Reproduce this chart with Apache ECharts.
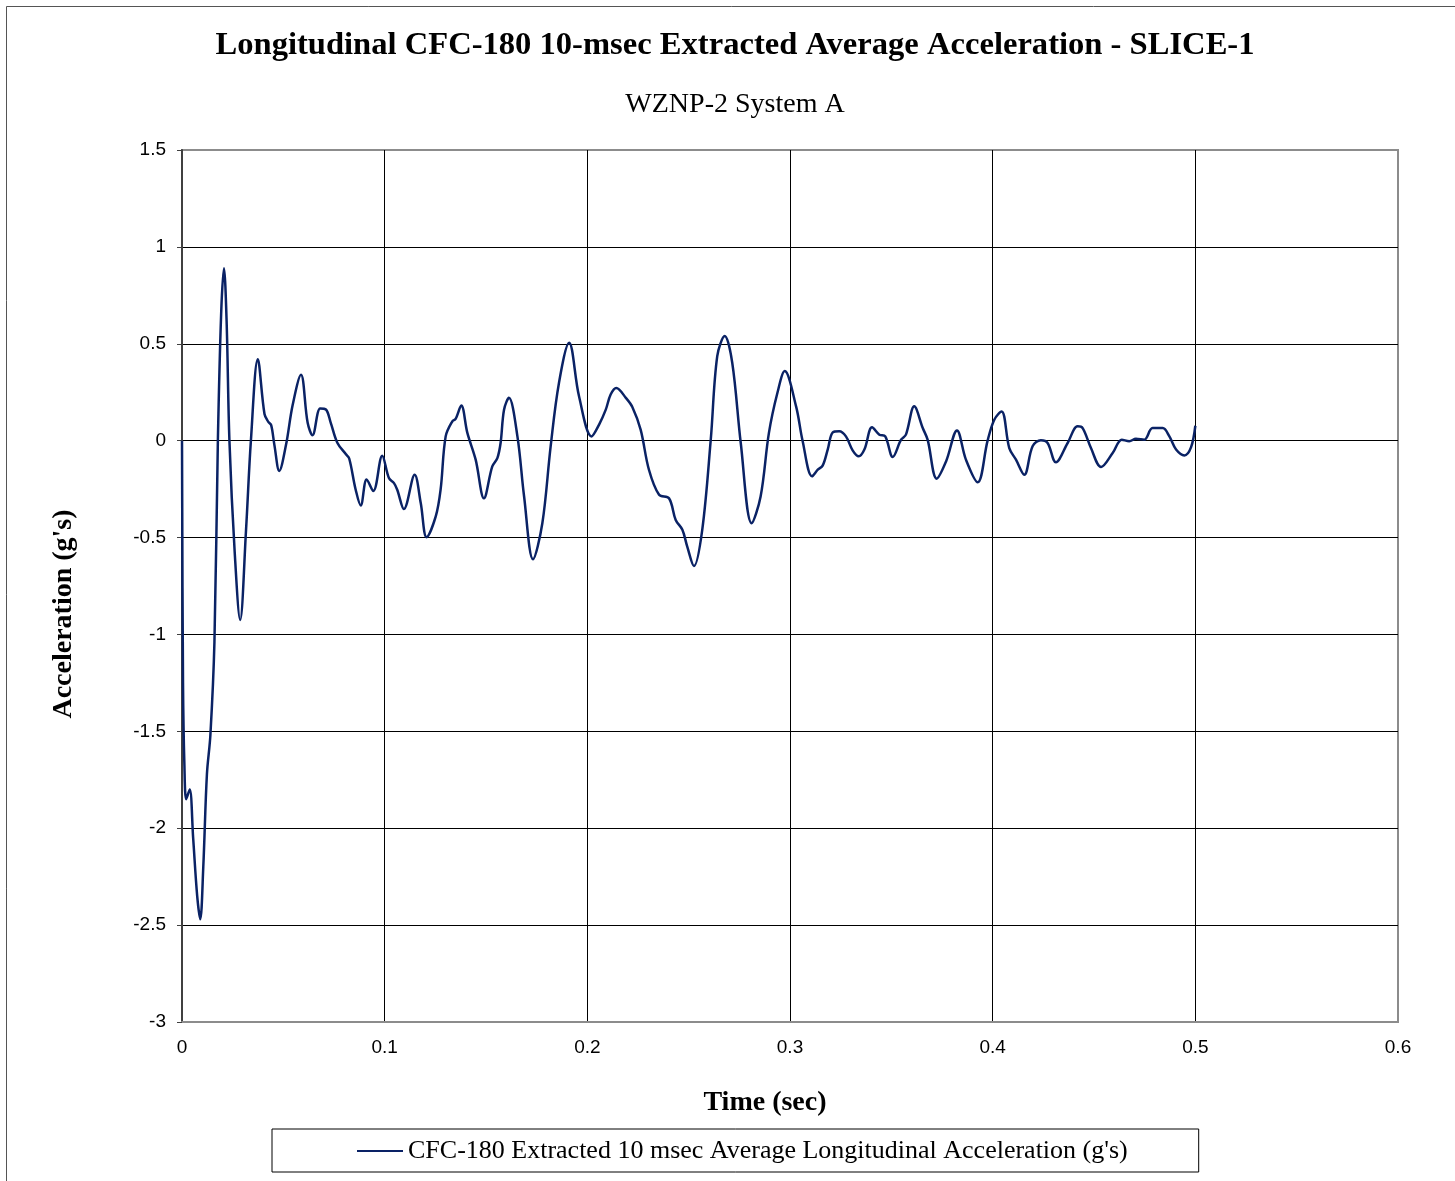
<!DOCTYPE html>
<html>
<head>
<meta charset="utf-8">
<title>Longitudinal CFC-180 10-msec Extracted Average Acceleration - SLICE-1</title>
<script src="https://cdn.jsdelivr.net/npm/echarts@6/dist/echarts.min.js"></script>
<style>
  html, body { margin: 0; padding: 0; background: #fff; }
  #chart { width: 1455px; height: 1181px; }
</style>
</head>
<body>
<div id="chart"></div>
<script>
// time (sec)
const times = [
  0, 0.0005, 0.0012, 0.0021, 0.0038, 0.0055, 0.0075, 0.009, 0.0105, 0.0123,
  0.014, 0.016, 0.0177, 0.0193, 0.0207, 0.022, 0.0234, 0.026, 0.0287, 0.0316,
  0.034, 0.0374, 0.0407, 0.0426, 0.044, 0.0456, 0.048, 0.0513, 0.0546, 0.0587,
  0.062, 0.0644, 0.0682, 0.071, 0.0734, 0.0767, 0.0808, 0.0825, 0.0857, 0.0882,
  0.0911, 0.0944, 0.0988, 0.1021, 0.1046, 0.1062, 0.1095, 0.1148, 0.1178, 0.1207,
  0.1252, 0.1276, 0.1301, 0.1334, 0.135, 0.1378, 0.1408, 0.1449, 0.149, 0.1531,
  0.1556, 0.1572, 0.1589, 0.1613, 0.1655, 0.1688, 0.1732, 0.1778, 0.1819, 0.186,
  0.191, 0.1959, 0.2021, 0.2058, 0.2091, 0.2115, 0.2143, 0.219, 0.2222, 0.2263,
  0.2304, 0.2354, 0.2403, 0.2436, 0.2469, 0.2493, 0.2526, 0.2567, 0.2609, 0.2641,
  0.2678, 0.2715, 0.2757, 0.2811, 0.2855, 0.2896, 0.2938, 0.2974, 0.303, 0.3062,
  0.3109, 0.3137, 0.3161, 0.3186, 0.3211, 0.3243, 0.3276, 0.3309, 0.3339, 0.3367,
  0.3405, 0.3441, 0.347, 0.3507, 0.3548, 0.3572, 0.3613, 0.3655, 0.3679, 0.3724,
  0.377, 0.3824, 0.3868, 0.3926, 0.3975, 0.4008, 0.4044, 0.4082, 0.4115, 0.4156,
  0.4197, 0.4238, 0.4271, 0.4312, 0.437, 0.4419, 0.4444, 0.4485, 0.4535, 0.4592,
  0.4637, 0.4674, 0.4707, 0.4748, 0.4789, 0.4839, 0.4872, 0.4905, 0.4946, 0.4979,
  0.5
];

// acceleration (g's)
const accel = [
  0, -1.25, -1.68, -1.85, -1.80, -2.05, -2.35, -2.47, -2.2, -1.72,
  -1.52, -1.04, 0, 0.65, 0.89, 0.62, 0, -0.575, -0.925, -0.46,
  0, 0.42, 0.138, 0.097, 0.08, -0.023, -0.156, -0.023, 0.184, 0.34,
  0.092, 0.028, 0.166, 0.161, 0.092, -0.012, -0.069, -0.092, -0.253, -0.334,
  -0.2, -0.26, -0.078, -0.193, -0.219, -0.253, -0.353, -0.176, -0.322, -0.498,
  -0.391, -0.253, 0.022, 0.1, 0.112, 0.181, 0.04, -0.098, -0.297, -0.133,
  -0.09, -0.012, 0.16, 0.221, 0.022, -0.288, -0.612, -0.426, -0.029, 0.298,
  0.505, 0.229, 0.022, 0.083, 0.16, 0.238, 0.272, 0.221, 0.174, 0.057,
  -0.15, -0.279, -0.297, -0.409, -0.46, -0.547, -0.647, -0.46, 0.005, 0.436,
  0.54, 0.402, -0.012, -0.426, -0.288, 0.04, 0.247, 0.359, 0.177, 0,
  -0.184, -0.15, -0.129, -0.046, 0.043, 0.048, 0.022, -0.05, -0.081, -0.046,
  0.069, 0.031, 0.022, -0.084, 0.005, 0.031, 0.177, 0.065, 0.005, -0.196,
  -0.107, 0.053, -0.098, -0.215, 0, 0.108, 0.151, -0.038, -0.098, -0.176,
  -0.029, 0.002, -0.012, -0.112, -0.012, 0.074, 0.065, -0.038, -0.136, -0.064,
  0.005, -0.003, 0.01, 0.005, 0.065, 0.065, 0.022, -0.046, -0.076, -0.033,
  0.077
];

const seriesName = "CFC-180 Extracted 10 msec Average Longitudinal Acceleration (g's)";
const serif = '"Liberation Serif", "Times New Roman", serif';
const sans = '"Liberation Sans", Arial, sans-serif';

const chart = echarts.init(document.getElementById('chart'));

const option = {
    animation: false,
    backgroundColor: '#fff',
    grid: {
        left: 182, top: 150, width: 1216, height: 872,
        show: true, borderColor: '#8c8c8c', borderWidth: 2
    },
    xAxis: {
        type: 'value', min: 0, max: 0.6, interval: 0.1,
        axisLine: { onZero: false, lineStyle: { color: '#8c8c8c', width: 2 } },
        axisTick: { show: false },
        axisLabel: { color: '#000', fontFamily: sans, fontSize: 19, margin: 16 },
        splitLine: { show: true, showMinLine: false, showMaxLine: false, lineStyle: { color: '#000', width: 1 } }
    },
    yAxis: {
        type: 'value', min: -3, max: 1.5, interval: 0.5,
        axisLine: { show: true, lineStyle: { color: '#404040', width: 2 } },
        axisTick: { show: true, length: 5, lineStyle: { color: '#404040' } },
        axisLabel: { color: '#000', fontFamily: sans, fontSize: 19, margin: 16 },
        splitLine: { show: true, showMinLine: false, showMaxLine: false, lineStyle: { color: '#000', width: 1 } }
    },
    legend: {
        left: 272, top: 1129,
        padding: [9, 71, 8, 85],
        borderColor: '#000', borderWidth: 1,
        icon: 'rect', itemWidth: 46, itemHeight: 2,
        textStyle: { fontFamily: serif, fontSize: 26, color: '#000' },
        data: [seriesName]
    },
    graphic: [
        { type: 'rect', shape: { x: 6.5, y: 6.5, width: 1460, height: 1190 },
          style: { fill: 'none', stroke: '#555', lineWidth: 1 }, silent: true },
        { type: 'text', x: 735, y: 46,
          style: { text: 'Longitudinal CFC-180 10-msec Extracted Average Acceleration - SLICE-1',
                   font: 'bold 32.6px ' + serif, fill: '#000', textAlign: 'center', textVerticalAlign: 'middle' } },
        { type: 'text', x: 735, y: 105,
          style: { text: 'WZNP-2 System A', font: '28px ' + serif, fill: '#000',
                   textAlign: 'center', textVerticalAlign: 'middle' } },
        { type: 'text', x: 765, y: 1103,
          style: { text: 'Time (sec)', font: 'bold 28px ' + serif, fill: '#000',
                   textAlign: 'center', textVerticalAlign: 'middle' } },
        { type: 'text', x: 64, y: 614, rotation: Math.PI / 2,
          style: { text: "Acceleration (g's)", font: 'bold 28px ' + serif, fill: '#000',
                   textAlign: 'center', textVerticalAlign: 'middle' } }
    ],
    series: [{
        name: seriesName,
        type: 'line',
        data: times.map((t, i) => [t, accel[i]]),
        smooth: 0.35,
        showSymbol: false,
        lineStyle: { color: '#0a2265', width: 2.5 },
        itemStyle: { color: '#0a2265' }
    }]
};

chart.setOption(option);
</script>
</body>
</html>
